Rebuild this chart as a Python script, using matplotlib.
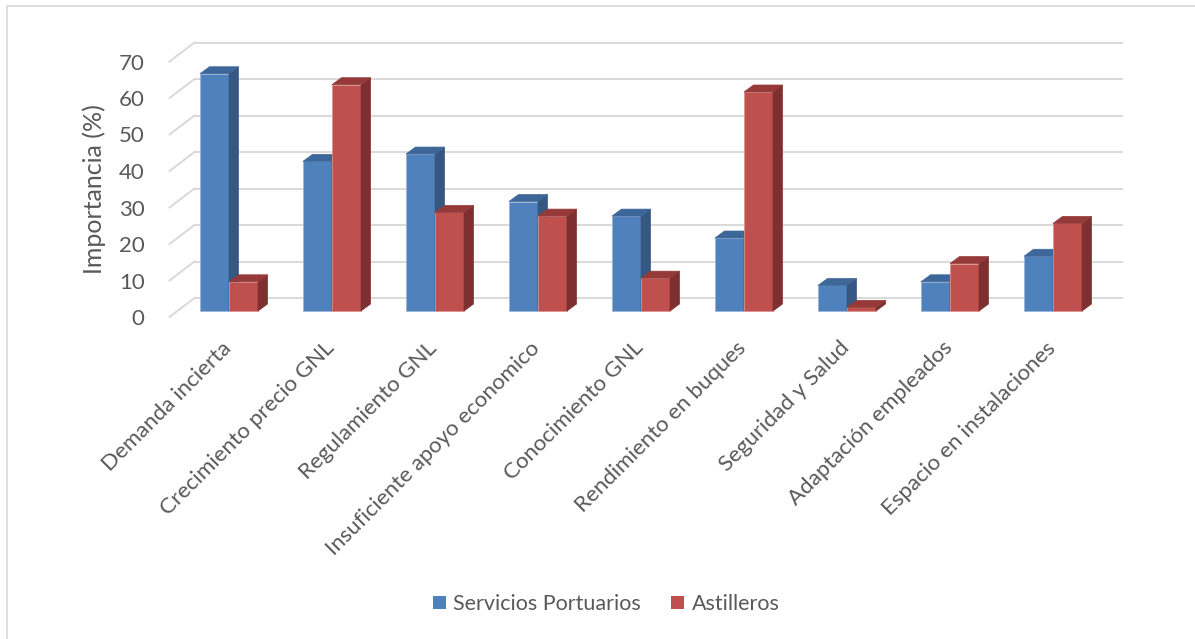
import matplotlib
matplotlib.use('Agg')
import matplotlib.pyplot as plt
from matplotlib.patches import Polygon, Rectangle, Patch

categorias = ['Demanda incierta', 'Crecimiento precio GNL', 'Regulamiento GNL',
              'Insuficiente apoyo economico', 'Conocimiento GNL', 'Rendimiento en buques',
              'Seguridad y Salud', 'Adaptación empleados', 'Espacio en instalaciones']
servicios = [65, 41, 43, 30, 26, 20, 7, 8, 15]
astilleros = [8, 62, 27, 26, 9, 60, 1, 13, 24]
yticks = [0, 10, 20, 30, 40, 50, 60, 70]

plt.rcParams['font.family'] = ['Lato', 'DejaVu Sans']
GRIS = '#595959'
GRID = '#D9D9D9'

W, H = 1195, 639
fig = plt.figure(figsize=(W / 100, H / 100), dpi=100)

# front plane of the floor (where the ticks sit), in pixels
x_left, x_right = 169.5, 1096.5
y_zero, y_top = 317.0, 61.5
ax = fig.add_axes([x_left / W, 1 - y_zero / H, (x_right - x_left) / W, (y_zero - y_top) / H])
ax.set_xlim(-0.5, 8.5)
ax.set_ylim(0, 70)

px_x = 9 / (x_right - x_left)   # data units per pixel
px_y = 70 / (y_zero - y_top)

# depth offsets in pixels
wall_dx, wall_dy = 25, 19     # front floor edge -> back wall
bar_dx, bar_dy = 8, 6         # front floor edge -> bar front
dep_dx, dep_dy = 9.5, 7       # bar depth

for s in ax.spines.values():
    s.set_visible(False)
ax.set_facecolor('none')

# back wall gridlines and left wall diagonals
wx, wy = wall_dx * px_x, wall_dy * px_y
for v in yticks:
    ax.plot([-0.5 + wx, 8.5 + wx], [v + wy, v + wy], color=GRID, lw=1.4, zorder=1, clip_on=False)
    ax.plot([-0.5, -0.5 + wx], [v, v + wy], color=GRID, lw=1.4, zorder=1, clip_on=False)

bw = 29 * px_x
bx, by = bar_dx * px_x, bar_dy * px_y
ddx, ddy = dep_dx * px_x, dep_dy * px_y


def barra3d(xc, val, front, side, top, borde):
    x0 = xc - bw / 2
    x1 = xc + bw / 2
    ax.bar(xc, val, width=bw, bottom=by, color=front, edgecolor=borde, linewidth=0.6, zorder=3)
    y0, y1 = by, by + val
    ax.add_patch(Polygon([(x1, y0), (x1, y1), (x1 + ddx, y1 + ddy), (x1 + ddx, y0 + ddy)],
                         closed=True, facecolor=side, edgecolor=side, lw=0.5, zorder=3))
    ax.add_patch(Polygon([(x0, y1), (x1, y1), (x1 + ddx, y1 + ddy), (x0 + ddx, y1 + ddy)],
                         closed=True, facecolor=top, edgecolor=top, lw=0.5, zorder=3))


for i in range(len(categorias)):
    c = i + bx
    barra3d(c - bw / 2, servicios[i], '#4F81BD', '#355782', '#3D6699', '#9DB5D6')
    barra3d(c + bw / 2, astilleros[i], '#C0504D', '#7D302F', '#953A38', '#D89492')

ax.set_yticks(yticks)
ax.set_yticklabels([str(t) for t in yticks], fontsize=16, color=GRIS)
ax.tick_params(axis='y', length=0, pad=18)
ax.set_xticks(range(len(categorias)))
ax.set_xticklabels(categorias, rotation=45, ha='right', rotation_mode='anchor', fontsize=16, color=GRIS)
ax.tick_params(axis='x', length=0, pad=15)
ax.set_ylabel('Importancia (%)', fontsize=18, color=GRIS, labelpad=9)

handles = [Patch(facecolor='#4F81BD', label='Servicios Portuarios'),
           Patch(facecolor='#C0504D', label='Astilleros')]
fig.legend(handles=handles, loc='center', bbox_to_anchor=(606 / W, 1 - 604 / H), ncol=2, frameon=False,
           fontsize=15.5, labelcolor=GRIS, handlelength=0.6, handleheight=0.6, handletextpad=0.35,
           columnspacing=1.4)

# chart area border
fig.add_artist(Rectangle((7 / W, -0.1), 1.2, 1.1 - 6 / H, transform=fig.transFigure,
                         fill=False, edgecolor=GRID, lw=1.2))

fig.savefig('out.png', dpi=100)
